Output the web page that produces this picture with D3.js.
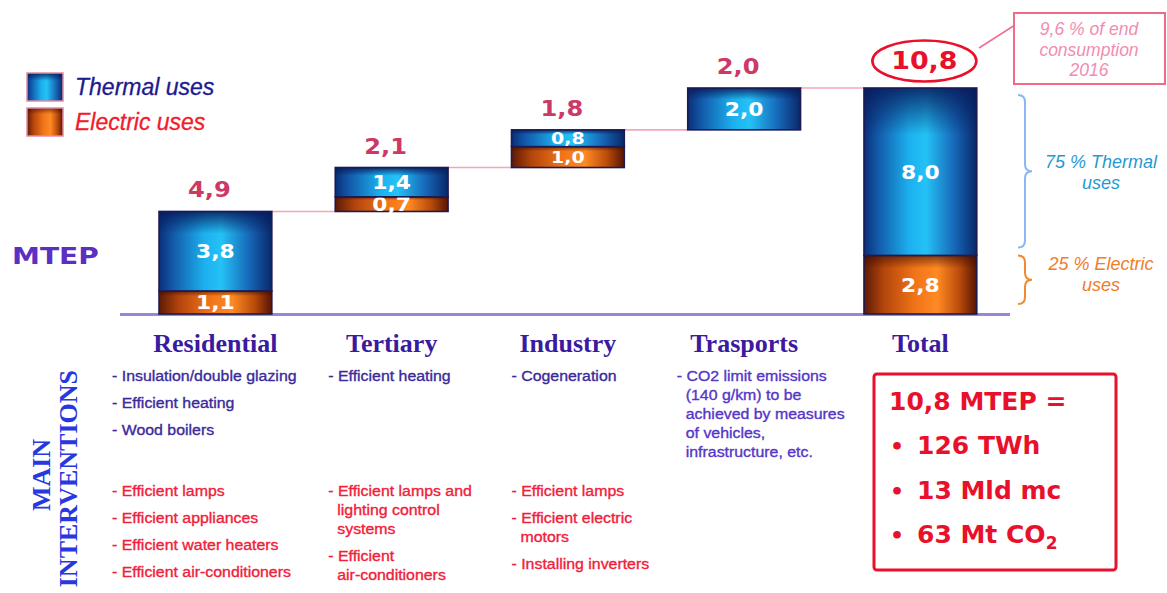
<!DOCTYPE html>
<html>
<head>
<meta charset="utf-8">
<script src="https://cdn.jsdelivr.net/npm/d3@7"></script>
<style>
  body { margin: 0; background: #fff; }
  svg { display: block; }
</style>
</head>
<body>
<svg id="chart" width="1167" height="593"></svg>
<script>
// ---- data (MTEP) ----
const categories = ["Residential", "Tertiary", "Industry", "Trasports", "Total"];
const thermalUses = [3.8, 1.4, 0.8, 2.0, 8.0];
const electricUses = [1.1, 0.7, 1.0, 0, 2.8];
const sectorTotals = [4.9, 2.1, 1.8, 2.0, 10.8];
const legendLabels = ["Thermal uses", "Electric uses"];
const shareLabels = [["75 % Thermal", "uses"], ["25 % Electric", "uses"]];
const noteLines = ["9,6 % of end", "consumption", "2016"];
const equivalenceHead = "10,8 MTEP =";
const equivalences = [["126 TWh", ""], ["13 Mld mc", ""], ["63 Mt CO", "2"]];

// main interventions per sector, each item split into display lines
const thermalMeasures = [
  [["- Insulation/double glazing"], ["- Efficient heating"], ["- Wood boilers"]],
  [["- Efficient heating"]],
  [["- Cogeneration"]],
  [["- CO2 limit emissions", "(140 g/km) to be", "achieved by measures", "of vehicles,", "infrastructure, etc."]]
];
const electricMeasures = [
  [["- Efficient lamps"], ["- Efficient appliances"], ["- Efficient water heaters"], ["- Efficient air-conditioners"]],
  [["- Efficient lamps and", "lighting control", "systems"], ["- Efficient", "air-conditioners"]],
  [["- Efficient lamps"], ["- Efficient electric", "motors"], ["- Installing inverters"]],
  []
];

// ---- layout ----
const svg = d3.select("#chart");
const SANS = "'Liberation Sans', Arial, sans-serif";
const BOLD = "'DejaVu Sans', Verdana, sans-serif";
const SERIF = "'Liberation Serif', 'Times New Roman', serif";
const fmt = v => d3.format(".1f")(v).replace(".", ",");

const x = d3.scaleBand().domain(categories).range([127.3, 1008.5]).paddingInner(0.36).paddingOuter(0.18);
const grandTotal = d3.sum(sectorTotals.slice(0, 4));
const y = d3.scaleLinear().domain([0, grandTotal]).range([314, 88]);

// waterfall: each sector starts where the previous one ended, the total starts at zero
let running = 0;
const rows = categories.map((c, i) => {
  const isTotal = i === categories.length - 1;
  const base = isTotal ? 0 : running;
  if (!isTotal) running += sectorTotals[i];
  return { c, i, base, e: electricUses[i], t: thermalUses[i], total: sectorTotals[i], isTotal };
});

// ---- gradients ----
const defs = svg.append("defs");
function hGrad(id, stops) {
  const g = defs.append("linearGradient").attr("id", id).attr("x1", 0).attr("x2", 1).attr("y1", 0).attr("y2", 0);
  stops.forEach(([o, c]) => g.append("stop").attr("offset", o).attr("stop-color", c));
}
function vShade(id, color, op, end) {
  const g = defs.append("linearGradient").attr("id", id).attr("x1", 0).attr("x2", 0).attr("y1", 0).attr("y2", 1);
  g.append("stop").attr("offset", 0).attr("stop-color", color).attr("stop-opacity", op);
  g.append("stop").attr("offset", end).attr("stop-color", color).attr("stop-opacity", 0);
}
hGrad("thermalFill", [[0, "#0b2f78"], [0.12, "#1258a8"], [0.4, "#1cb0ee"], [0.55, "#24c2f6"], [0.8, "#1668b8"], [1, "#0a2768"]]);
hGrad("electricFill", [[0, "#5e1a06"], [0.18, "#b4460c"], [0.45, "#f07418"], [0.65, "#ff8a24"], [0.85, "#b84a0a"], [1, "#561404"]]);
vShade("thermalShade", "#061a5a", 0.85, 0.28);
vShade("electricShade", "#3a0a00", 0.6, 0.22);

// ---- baseline ----
svg.append("line")
  .attr("x1", 120).attr("x2", 1010).attr("y1", y(0) + 0.5).attr("y2", y(0) + 0.5)
  .attr("stroke", "#9c84dc").attr("stroke-width", 3);

// ---- connectors between bars ----
rows.slice(0, -1).forEach((r, k) => {
  const next = rows[k + 1];
  svg.append("line")
    .attr("x1", x(r.c) + x.bandwidth()).attr("x2", x(next.c))
    .attr("y1", y(r.base + r.total)).attr("y2", y(r.base + r.total))
    .attr("stroke", "#f2a6bc").attr("stroke-width", 1.6);
});

// ---- bars ----
const barG = svg.append("g");
rows.forEach(r => {
  const segs = [];
  if (r.e > 0) segs.push({ v0: r.base, v1: r.base + r.e, kind: "electric", val: r.e });
  if (r.t > 0) segs.push({ v0: r.base + r.e, v1: r.base + r.e + r.t, kind: "thermal", val: r.t });
  // short two-part bars get slightly smaller inner labels
  const barHeight = y(r.base) - y(r.base + r.e + r.t);
  const inner = segs.length > 1 && barHeight < 40 ? 16.5 : 19;
  segs.forEach(s => {
    const bx = x(r.c), bw = x.bandwidth(), by = y(s.v1), bh = y(s.v0) - y(s.v1);
    barG.append("rect").attr("x", bx).attr("y", by).attr("width", bw).attr("height", bh)
      .attr("fill", `url(#${s.kind}Fill)`);
    barG.append("rect").attr("x", bx).attr("y", by).attr("width", bw).attr("height", bh)
      .attr("fill", `url(#${s.kind}Shade)`);
    barG.append("rect").attr("x", bx).attr("y", by).attr("width", bw).attr("height", bh)
      .attr("fill", "none").attr("stroke", "#1c1a52").attr("stroke-width", 1.6);
    // value inside the segment
    const cx = bx + bw / 2, cy = by + bh / 2;
    barG.append("text")
      .attr("transform", `translate(${cx},${cy}) scale(1.15,1)`)
      .attr("dy", "0.36em").attr("text-anchor", "middle")
      .attr("font-family", BOLD).attr("font-weight", "bold").attr("font-size", inner)
      .attr("fill", "#fff").text(fmt(s.val));
  });
});

// ---- sector totals above bars ----
rows.filter(r => !r.isTotal).forEach(r => {
  svg.append("text")
    .attr("transform", `translate(${x(r.c) + x.bandwidth() / 2 - 6},${y(r.base + r.total) - 14}) scale(1.15,1)`)
    .attr("text-anchor", "middle")
    .attr("font-family", BOLD).attr("font-weight", "bold").attr("font-size", 21)
    .attr("fill", "#cc3966").text(fmt(r.total));
});

// grand total in an ellipse
const totalRow = rows[rows.length - 1];
const tcx = x(totalRow.c) + x.bandwidth() / 2 + 4;
svg.append("ellipse").attr("cx", tcx).attr("cy", 61).attr("rx", 52).attr("ry", 20.5)
  .attr("fill", "#fff").attr("stroke", "#e8102a").attr("stroke-width", 2.6);
svg.append("text")
  .attr("transform", `translate(${tcx},69) scale(1.12,1)`)
  .attr("text-anchor", "middle")
  .attr("font-family", BOLD).attr("font-weight", "bold").attr("font-size", 24)
  .attr("fill", "#e8102a").text(fmt(totalRow.total));

// callout box
svg.append("line").attr("x1", 979).attr("y1", 48).attr("x2", 1015).attr("y2", 25)
  .attr("stroke", "#f07090").attr("stroke-width", 1.6);
svg.append("rect").attr("x", 1014).attr("y", 13).attr("width", 151).attr("height", 71)
  .attr("fill", "#fff").attr("stroke", "#f06a8a").attr("stroke-width", 2);
noteLines.forEach((t, k) => {
  svg.append("text").attr("x", 1089).attr("y", 35 + k * 20.5)
    .attr("text-anchor", "middle").attr("font-family", SANS).attr("font-style", "italic")
    .attr("font-size", 17.5).attr("fill", "#f28cb0").text(t);
});

// ---- braces with shares ----
function brace(x0, yTop, yBot, color) {
  const xm = x0 + 7, xt = x0 + 14, ym = (yTop + yBot) / 2, r = 7;
  const p = `M${x0},${yTop} Q${xm},${yTop} ${xm},${yTop + r} L${xm},${ym - r} Q${xm},${ym} ${xt},${ym}` +
            ` Q${xm},${ym} ${xm},${ym + r} L${xm},${yBot - r} Q${xm},${yBot} ${x0},${yBot}`;
  svg.append("path").attr("d", p).attr("fill", "none").attr("stroke", color).attr("stroke-width", 2);
}
const thermalTop = y(totalRow.e + totalRow.t), split = y(totalRow.e), bottom = y(0);
brace(1018, thermalTop + 7, split - 8, "#8cb8f2");
brace(1018, split + 0, bottom - 10, "#f08a30");
const shareColors = ["#1f9ad4", "#f07d28"];
const shareBase = [168, 270];
shareLabels.forEach((lines, k) => {
  lines.forEach((t, j) => {
    svg.append("text").attr("x", 1101).attr("y", shareBase[k] + j * 21)
      .attr("text-anchor", "middle").attr("font-family", SANS).attr("font-style", "italic")
      .attr("font-size", 18).attr("fill", shareColors[k]).text(t);
  });
});

// ---- legend ----
const legendFills = ["thermalFill", "electricFill"];
const legendShades = ["thermalShade", "electricShade"];
const legendColors = ["#1c1a8e", "#f01c2c"];
legendLabels.forEach((t, k) => {
  const ly = 73 + k * 35;
  svg.append("rect").attr("x", 27).attr("y", ly).attr("width", 36).attr("height", 28)
    .attr("fill", `url(#${legendFills[k]})`);
  svg.append("rect").attr("x", 27).attr("y", ly).attr("width", 36).attr("height", 28)
    .attr("fill", `url(#${legendShades[k]})`).attr("stroke", "#e48aa6").attr("stroke-width", 1.5);
  svg.append("text").attr("x", 75).attr("y", ly + 22)
    .attr("font-family", SANS).attr("font-style", "italic").attr("font-size", 23)
    .attr("fill", legendColors[k]).attr("stroke", legendColors[k]).attr("stroke-width", 0.3)
    .text(t);
});

// unit label
svg.append("text")
  .attr("transform", "translate(12,264) scale(1.22,1)")
  .attr("font-family", BOLD).attr("font-weight", "bold").attr("font-size", 23)
  .attr("fill", "#5b2fc4").text("MTEP");

// ---- category labels ----
categories.forEach(c => {
  svg.append("text").attr("x", x(c) + x.bandwidth() / 2).attr("y", 352)
    .attr("text-anchor", "middle").attr("font-family", SERIF).attr("font-weight", "bold")
    .attr("font-size", 26).attr("fill", "#3a1a9e").text(c);
});

// ---- main interventions ----
svg.append("text")
  .attr("transform", "translate(50,475) rotate(-90)")
  .attr("text-anchor", "middle").attr("font-family", SERIF).attr("font-weight", "bold")
  .attr("font-size", 26).attr("fill", "#2838e0").text("MAIN");
svg.append("text")
  .attr("transform", "translate(77,370) rotate(-90)")
  .attr("text-anchor", "end").attr("font-family", SERIF).attr("font-weight", "bold")
  .attr("font-size", 26).attr("fill", "#2838e0").text("INTERVENTIONS");

const noteOffset = [-47, -7, 0, -11];
const lineStep = 19, itemGap = 8;
function drawMeasures(list, i, startY, color) {
  let yy = startY;
  list.forEach(item => {
    item.forEach((line, j) => {
      const lx = x(categories[i]) + noteOffset[i] + (j > 0 ? 9 : 0);
      svg.append("text")
        .attr("transform", `translate(${lx},${yy}) scale(1.06,1)`)
        .attr("font-family", SANS).attr("font-size", 15)
        .attr("fill", color).attr("stroke", color).attr("stroke-width", 0.35)
        .text(line);
      yy += lineStep;
    });
    yy += itemGap;
  });
}
thermalMeasures.forEach((list, i) => drawMeasures(list, i, 381, i === 3 ? "#5436c8" : "#3a2a9c"));
electricMeasures.forEach((list, i) => drawMeasures(list, i, 496, "#f0203a"));

// ---- equivalences box ----
svg.append("rect").attr("x", 874).attr("y", 374).attr("width", 242).attr("height", 196)
  .attr("rx", 3).attr("fill", "#fff").attr("stroke", "#e8102a").attr("stroke-width", 3);
svg.append("text").attr("x", 889).attr("y", 410)
  .attr("font-family", BOLD).attr("font-weight", "bold").attr("font-size", 25)
  .attr("fill", "#e8102a").text(equivalenceHead);
equivalences.forEach(([main, sub], k) => {
  const ey = 454 + k * 44.5;
  svg.append("text").attr("x", 890).attr("y", ey)
    .attr("font-family", BOLD).attr("font-weight", "bold").attr("font-size", 22)
    .attr("fill", "#e8102a").text("•");
  const t = svg.append("text").attr("x", 917).attr("y", ey)
    .attr("font-family", BOLD).attr("font-weight", "bold").attr("font-size", 25)
    .attr("fill", "#e8102a").text(main);
  if (sub) t.append("tspan").attr("dy", 6).attr("font-size", 17).text(sub);
});
</script>
</body>
</html>
